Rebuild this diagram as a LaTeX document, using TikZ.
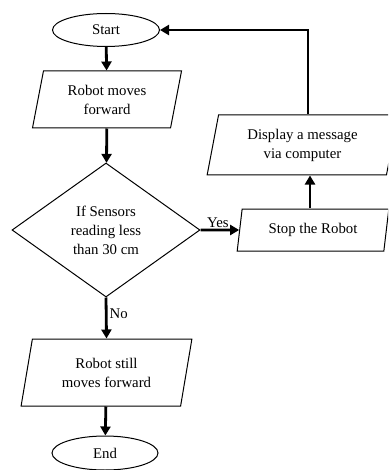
\documentclass[tikz,border=0pt]{standalone}
\usepackage{fontspec}
\setmainfont{Liberation Serif}
\usetikzlibrary{shapes.geometric, arrows.meta, positioning}
\newcommand{\chartfont}{\fontsize{14.8}{19}\selectfont}

\begin{document}
\begin{tikzpicture}[x=1pt,y=-1pt]
\tikzset{
  term/.style={draw, ellipse, line width=1pt, inner sep=0pt, font=\chartfont},
  io/.style={draw, trapezium, trapezium left angle=77, trapezium right angle=103,
    trapezium stretches=true, line width=1pt, inner sep=0pt, align=center, font=\chartfont},
  test/.style={draw, diamond, line width=1pt, inner sep=0pt, align=center, font=\chartfont},
  flow/.style={line width=2.8pt, -{Triangle[length=9pt,width=10pt]}}
}
\clip (0,0) rectangle (388,470);

\node[term, minimum width=107pt, minimum height=33pt] (start) at (106,30) {Start};
\node[io, minimum width=150pt, minimum height=57pt] (move) at (107,99.5) {Robot moves\\forward};
\node[test, minimum width=188pt, minimum height=134pt] (check) at (106,230) {If Sensors\\reading less\\than 30 cm};
\node[io, minimum width=152pt, minimum height=42pt] (stop) at (313,230) {Stop the Robot};
\node[io, minimum width=191pt, minimum height=60pt] (show) at (302.5,145) {Display a message\\via computer};
\node[io, minimum width=171pt, minimum height=67pt] (still) at (106.5,372.5) {Robot still\\moves forward};
\node[term, minimum width=106pt, minimum height=34pt] (end) at (105,453) {End};

\draw[flow] (start) -- (move);
\draw[flow] (move) -- (check);
\draw[flow] (check.east) -- node[above, pos=0.45, inner sep=1pt, font=\chartfont] {Yes} (stop.west);
\draw[flow] ([xshift=-3pt]stop.north) -- ([xshift=-3pt]stop.north |- show.south);
\draw[flow] ([xshift=5.5pt]show.north) |- (start.east);
\draw[flow] (check.south) -- node[right, pos=0.4, inner sep=2pt, font=\chartfont] {No} (still.north);
\draw[flow] (still) -- (end);
\end{tikzpicture}
\end{document}
